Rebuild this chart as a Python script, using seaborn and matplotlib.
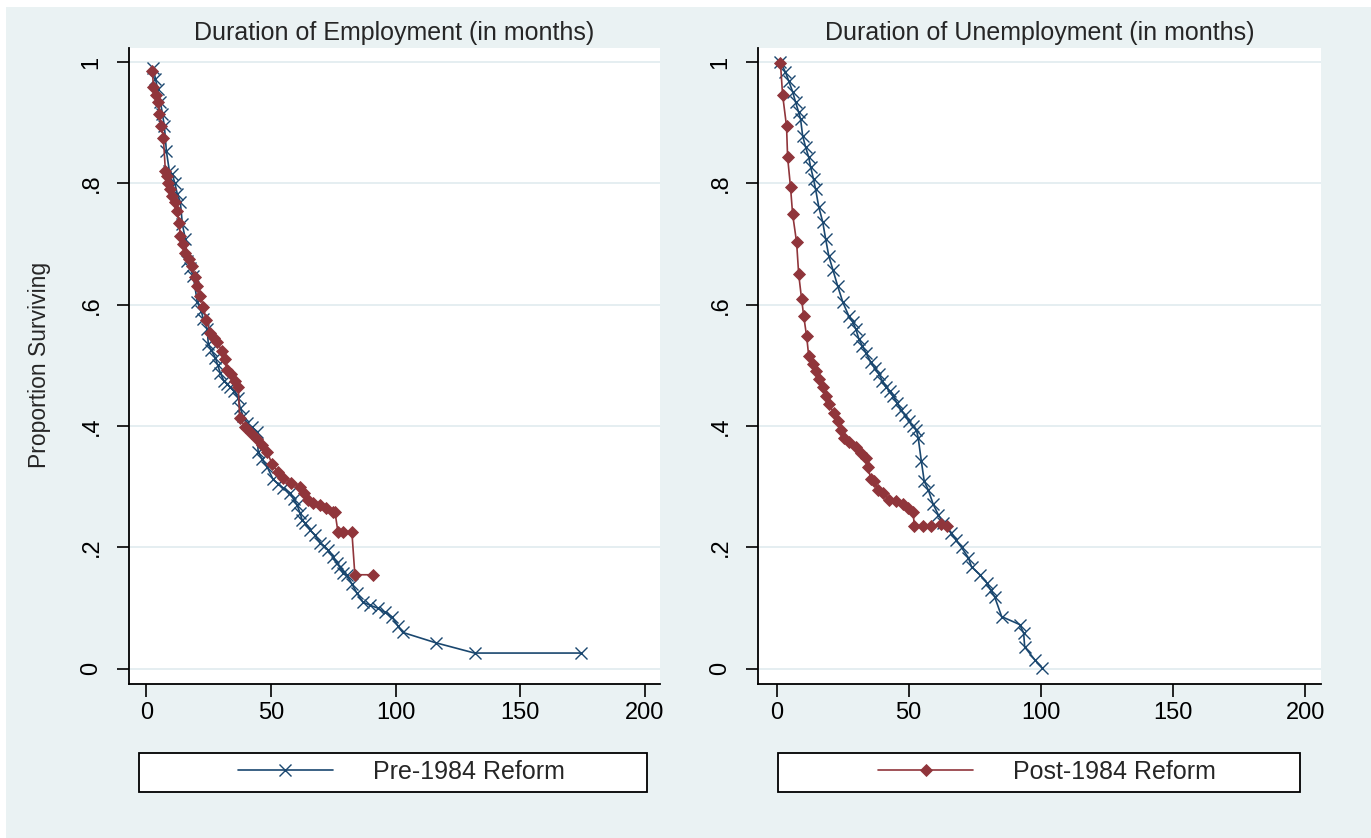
import numpy as np
import pandas as pd
import matplotlib.pyplot as plt
from matplotlib.lines import Line2D
import seaborn as sns

#%% data (months, proportion surviving)
emp_pre_x = [2.8, 3.6, 4.5, 5.6, 6.4, 7.2, 8.0, 9.2, 10.4, 11.4, 12.4, 13.6, 14.4, 15.6, 16.4,
             17.6, 18.8, 20.4, 22.0, 22.8, 24.4, 24.8, 26.0, 27.6, 28.6, 29.6, 31.0, 32.4, 33.6,
             35.2, 36.8, 37.6, 38.8, 40.4, 42.4, 44.4, 44.8, 46.4, 48.4, 50.8, 52.8, 54.8, 57.6,
             59.0, 60.4, 61.6, 62.4, 63.6, 65.6, 67.6, 69.6, 71.2, 72.8, 74.8, 76.4, 77.6, 78.8,
             80.4, 82.4, 84.4, 86.8, 89.6, 92.8, 95.6, 98.4, 101.0, 102.8, 116.0, 131.6, 174.4]
emp_pre_y = [0.99, 0.972, 0.955, 0.934, 0.915, 0.894, 0.853, 0.820, 0.815, 0.80, 0.782, 0.769,
             0.733, 0.708, 0.672, 0.66, 0.647, 0.604, 0.59, 0.576, 0.56, 0.535, 0.525, 0.513,
             0.50, 0.488, 0.475, 0.47, 0.464, 0.457, 0.447, 0.43, 0.416, 0.405, 0.398, 0.391,
             0.358, 0.345, 0.333, 0.312, 0.305, 0.298, 0.29, 0.28, 0.27, 0.257, 0.246, 0.24,
             0.229, 0.22, 0.208, 0.202, 0.196, 0.185, 0.175, 0.167, 0.158, 0.155, 0.14, 0.125,
             0.11, 0.105, 0.10, 0.093, 0.086, 0.07, 0.06, 0.043, 0.026, 0.026]

emp_post_x = [2.4, 2.8, 4.0, 4.8, 5.2, 6.0, 6.8, 7.6, 8.2, 8.8, 9.6, 10.4, 11.4, 12.4, 13.0,
              13.6, 14.6, 15.6, 17.0, 18.4, 19.4, 20.4, 21.6, 22.8, 24.0, 25.6, 27.0, 28.4,
              30.4, 31.4, 32.4, 34.0, 35.6, 36.8, 37.4, 39.6, 42.0, 44.4, 46.4, 48.4, 50.4,
              52.6, 54.8, 58.0, 61.6, 63.0, 64.8, 67.0, 69.6, 72.0, 74.8, 75.6, 76.8, 79.0,
              82.4, 83.6, 90.8]
emp_post_y = [0.985, 0.959, 0.945, 0.934, 0.914, 0.895, 0.875, 0.82, 0.812, 0.80, 0.79, 0.779,
              0.77, 0.754, 0.735, 0.713, 0.70, 0.686, 0.675, 0.663, 0.645, 0.63, 0.615, 0.597,
              0.575, 0.554, 0.545, 0.538, 0.523, 0.51, 0.493, 0.485, 0.474, 0.465, 0.414,
              0.398, 0.388, 0.378, 0.368, 0.358, 0.337, 0.325, 0.315, 0.307, 0.30, 0.29, 0.279,
              0.273, 0.27, 0.265, 0.259, 0.259, 0.226, 0.226, 0.226, 0.155, 0.155]

unemp_pre_x = [1.5, 3.4, 4.6, 6.1, 7.2, 8.4, 9.1, 9.9, 11.0, 12.2, 12.9, 14.0, 14.8, 16.0, 17.5,
               18.6, 19.8, 21.3, 23.2, 25.1, 27.4, 28.9, 30.0, 31.2, 32.5, 33.8, 35.7, 37.2,
               38.8, 40.0, 41.4, 42.8, 44.1, 45.6, 47.1, 48.6, 50.2, 51.5, 52.9, 53.6, 54.8,
               55.9, 57.4, 59.3, 61.2, 63.1, 66.2, 68.0, 70.0, 72.6, 73.8, 77.0, 79.5, 81.0,
               82.5, 85.2, 92.0, 93.5, 93.9, 97.7, 100.4]
unemp_pre_y = [1.0, 0.983, 0.969, 0.951, 0.934, 0.917, 0.906, 0.878, 0.86, 0.843, 0.827, 0.807,
               0.79, 0.761, 0.736, 0.708, 0.68, 0.658, 0.63, 0.604, 0.581, 0.571, 0.56, 0.543,
               0.532, 0.521, 0.505, 0.495, 0.485, 0.475, 0.465, 0.457, 0.449, 0.438, 0.427,
               0.418, 0.408, 0.40, 0.394, 0.381, 0.342, 0.309, 0.295, 0.271, 0.254, 0.241,
               0.224, 0.212, 0.2, 0.183, 0.168, 0.155, 0.142, 0.13, 0.119, 0.086, 0.073, 0.059,
               0.036, 0.015, 0.002]

unemp_post_x = [1.5, 2.3, 3.8, 4.2, 5.3, 6.1, 7.6, 8.4, 9.5, 10.3, 11.4, 12.2, 13.7, 14.8, 16.0,
                17.5, 18.6, 19.8, 21.7, 23.2, 24.3, 25.5, 27.4, 30.0, 31.9, 33.8, 34.6, 35.7,
                36.9, 38.4, 40.3, 42.6, 45.2, 47.9, 49.8, 51.7, 52.1, 55.5, 58.6, 62.4, 64.6]
unemp_post_y = [0.998, 0.946, 0.894, 0.843, 0.794, 0.749, 0.703, 0.65, 0.609, 0.581, 0.548,
                0.515, 0.502, 0.49, 0.477, 0.464, 0.449, 0.436, 0.422, 0.408, 0.394, 0.381,
                0.373, 0.365, 0.356, 0.348, 0.333, 0.312, 0.309, 0.295, 0.29, 0.279, 0.276,
                0.271, 0.265, 0.259, 0.236, 0.236, 0.236, 0.239, 0.236]

titles = ['Duration of Employment (in months)', 'Duration of Unemployment (in months)']
legend_labels = ['Pre-1984 Reform', 'Post-1984 Reform']
y_ticks = [0, 0.2, 0.4, 0.6, 0.8, 1.0]
y_ticklabels = ['0', '.2', '.4', '.6', '.8', '1']
x_ticks = [0, 50, 100, 150, 200]

#%% style
sns.set_theme(style='white')
plt.rcParams['font.family'] = ['Liberation Sans', 'DejaVu Sans']
navy = '#1A476F'
maroon = '#90353B'
bg = '#EAF2F3'
grid_c = '#E3EDF0'
W, H = 1371, 838

pre_style = dict(color=navy, lw=1.2, marker='x', markersize=8, markeredgewidth=1.0,
                 markeredgecolor=navy, markerfacecolor=navy)
post_style = dict(color=maroon, lw=1.2, marker='D', markersize=6.3, markeredgewidth=0.6,
                  markeredgecolor=maroon, markerfacecolor=maroon)

fig = plt.figure(figsize=(W / 100, H / 100), dpi=100)
fig.patch.set_facecolor('white')
fig.add_artist(plt.Rectangle((6 / W, 0), 1, 1 - 7 / H, transform=fig.transFigure,
                             facecolor=bg, edgecolor='none', zorder=-10))

ax1 = fig.add_axes([129 / W, 1 - 684 / H, 531 / W, 636 / H])
ax2 = fig.add_axes([758 / W, 1 - 684 / H, 563 / W, 636 / H])

panels = [(ax1, emp_pre_x, emp_pre_y, emp_post_x, emp_post_y),
          (ax2, unemp_pre_x, unemp_pre_y, unemp_post_x, unemp_post_y)]

for i, (ax, px, py, qx, qy) in enumerate(panels):
    ax.set_facecolor('white')
    sns.lineplot(x=px, y=py, ax=ax, sort=False, estimator=None, legend=False, zorder=3,
                 **pre_style)
    sns.lineplot(x=qx, y=qy, ax=ax, sort=False, estimator=None, legend=False, zorder=4,
                 **post_style)
    ax.set_xlim(-7, 206)
    ax.set_ylim(-0.025, 1.023)
    ax.set_xticks(x_ticks)
    ax.set_yticks(y_ticks)
    ax.set_yticklabels(y_ticklabels, rotation=90, va='center')
    ax.grid(axis='y', color=grid_c, lw=1.3)
    ax.grid(axis='x', visible=False)
    for s in ['top', 'right']:
        ax.spines[s].set_visible(False)
    for s in ['left', 'bottom']:
        ax.spines[s].set_color('black')
        ax.spines[s].set_linewidth(1.3)
    ax.tick_params(axis='both', direction='out', length=9, width=1.2, color='black',
                   labelsize=17, labelcolor='black', left=True, bottom=True)
    ax.tick_params(axis='y', pad=10)
    ax.tick_params(axis='x', pad=4)
    ax.set_title(titles[i], fontsize=18, pad=6)

ax1.set_ylabel('Proportion Surviving', fontsize=16.5)
ax1.yaxis.set_label_coords(-0.146, 0.502)

# legend boxes below each panel
boxes = [(139, 647), (778, 1300)]
handles = [Line2D([], [], **pre_style), Line2D([], [], **post_style)]
for ax, (x0, x1), h, lab in zip([ax1, ax2], boxes, handles, legend_labels):
    fig.add_artist(plt.Rectangle((x0 / W, 1 - 792 / H), (x1 - x0) / W, 39 / H,
                                 transform=fig.transFigure, facecolor='white',
                                 edgecolor='black', lw=1.3, zorder=-5))
    ax.legend([h], [lab], loc='center', frameon=False, fontsize=18,
              handlelength=3.8, handletextpad=1.6, numpoints=1,
              bbox_to_anchor=(((x0 + x1) / 2 + 8) / W, 1 - 772 / H),
              bbox_transform=fig.transFigure)

fig.savefig('out.png', dpi=100, facecolor=fig.get_facecolor())
